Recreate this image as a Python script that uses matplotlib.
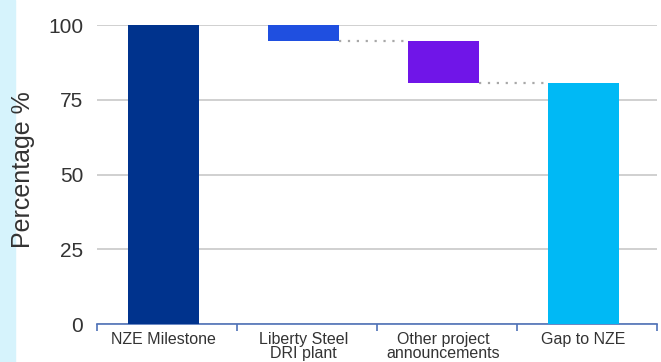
import numpy as np
import matplotlib.pyplot as plt
from matplotlib.patches import Rectangle

plt.rcParams['font.family'] = ['Liberation Sans', 'DejaVu Sans']

# waterfall data (percentage)
categories = ['NZE Milestone', 'Liberty Steel\nDRI plant', 'Other project\nannouncements', 'Gap to NZE']
start_value = 100.0
changes = [-5.5, -14.0]
bar_colors = ['#00338d', '#1f4fe0', '#7015e8', '#00b9f5']
y_ticks = [0, 25, 50, 75, 100]


def main():
    fig = plt.figure(figsize=(6.61, 3.62), dpi=100)
    fig.patches.append(Rectangle((0, 0), 15 / 661, 1, transform=fig.transFigure,
                                 color='#d6f3fc', zorder=0))
    ax = fig.add_axes([97 / 661, 1 - 324 / 362, 560 / 661, 299 / 362])

    # compute bar bottoms / tops
    levels = [start_value]
    for c in changes:
        levels.append(levels[-1] + c)
    end_value = levels[-1]

    x = np.arange(len(categories))
    w = 0.51
    ax.bar(x[0], start_value, width=w, color=bar_colors[0], zorder=3)
    for i, c in enumerate(changes):
        top = max(levels[i], levels[i + 1])
        bottom = min(levels[i], levels[i + 1])
        ax.bar(x[i + 1], top - bottom, bottom=bottom, width=w, color=bar_colors[i + 1], zorder=3)
    ax.bar(x[-1], end_value, width=w, color=bar_colors[-1], zorder=3)

    # dotted connectors between the step bars
    for i in range(1, len(levels)):
        ax.plot([x[i] + w / 2, x[i + 1] - w / 2], [levels[i], levels[i]],
                color='#a8a8a8', lw=1.6, linestyle=(0, (1, 3)), zorder=2)

    ax.set_xlim(-0.475, len(categories) - 0.475)
    ax.set_ylim(0, 100)
    ax.set_yticks(y_ticks)
    ax.yaxis.grid(True, color='#c8c8c8', lw=1.2, zorder=1)
    ax.tick_params(axis='y', length=0, labelsize=15, labelcolor='#333333', pad=10)

    for s in ['top', 'right', 'left']:
        ax.spines[s].set_visible(False)
    ax.spines['bottom'].set_color('#4f72b8')
    ax.spines['bottom'].set_linewidth(1.2)

    # boundary ticks and centred category labels
    ax.set_xticks(np.arange(len(categories) + 1) - 0.475)
    ax.set_xticklabels([])
    ax.tick_params(axis='x', which='major', length=5, color='#4f72b8', width=1.2)
    ax.set_xticks(x, categories, minor=True)
    ax.tick_params(axis='x', which='minor', length=0, labelsize=11.5,
                   labelcolor='#333333', pad=6)
    for lab in ax.get_xticklabels(minor=True):
        lab.set_linespacing(0.88)

    fig.text(23 / 661, 1 - 170 / 362, 'Percentage %', rotation=90, fontsize=18,
             color='#333333', ha='center', va='center', zorder=5)

    fig.savefig('out.png', dpi=100)
    plt.close(fig)


if __name__ == "__main__":
    main()
